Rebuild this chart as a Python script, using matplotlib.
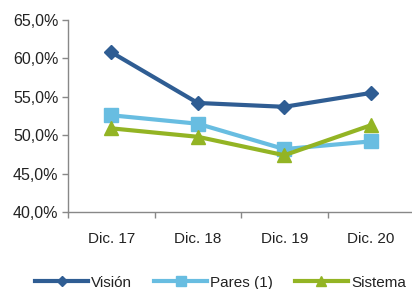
import matplotlib.pyplot as plt
from matplotlib.ticker import FuncFormatter, FixedLocator

# data
periods = ["Dic. 17", "Dic. 18", "Dic. 19", "Dic. 20"]
vision = [60.8, 54.2, 53.7, 55.5]
pares = [52.6, 51.5, 48.2, 49.2]
sistema = [50.9, 49.8, 47.4, 51.3]

plt.rcParams["font.family"] = ["Liberation Sans", "DejaVu Sans"]

fig = plt.figure(figsize=(4.12, 2.89), dpi=100)
ax = fig.add_axes([0.165, 0.266, 0.84, 0.665])

x = range(len(periods))
ax.plot(x, vision, color="#2F5D93", lw=3, marker="D", ms=7.5, label="Visión")
ax.plot(x, pares, color="#68BDE1", lw=3, marker="s", ms=9.5, label="Pares (1)")
ax.plot(x, sistema, color="#93B424", lw=3, marker="^", ms=10, label="Sistema")

ax.set_ylim(40, 65)
ax.set_yticks([40, 45, 50, 55, 60, 65])
ax.yaxis.set_major_formatter(FuncFormatter(lambda v, p: f"{v:.1f}%".replace(".", ",")))
ax.set_xlim(-0.5, len(periods) - 0.5)
ax.set_xticks(list(x))
ax.set_xticklabels(periods)
ax.xaxis.set_minor_locator(FixedLocator([i - 0.5 for i in range(len(periods) + 1)]))
ax.tick_params(axis="x", which="major", length=0, pad=14, labelsize=11, colors="#222222")
ax.tick_params(axis="x", which="minor", length=4, width=1, color="#888888")
ax.tick_params(axis="y", length=4, width=1, color="#888888", labelsize=11.5,
               labelcolor="#222222", pad=3)

for s in ["top", "right"]:
    ax.spines[s].set_visible(False)
for s in ["left", "bottom"]:
    ax.spines[s].set_color("#888888")
    ax.spines[s].set_linewidth(1)

leg = fig.legend(loc="lower center", bbox_to_anchor=(0.535, -0.05), ncol=3, frameon=False,
                 fontsize=11, handlelength=3.5, handletextpad=0.2, columnspacing=1.4,
                 markerscale=0.7)
for t in leg.get_texts():
    t.set_color("#222222")

fig.savefig("out.png", dpi=100)
